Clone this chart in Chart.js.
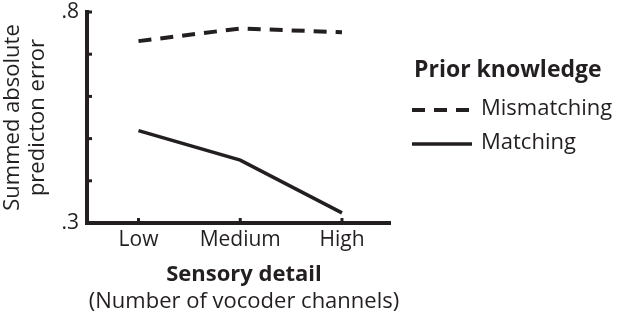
<!DOCTYPE html>
<html>
<head>
<meta charset="utf-8">
<script src="https://cdn.jsdelivr.net/npm/chart.js@4"></script>
<style>
  html, body { margin: 0; padding: 0; background: #fff; }
  #wrap { width: 617px; height: 319px; }
</style>
</head>
<body>
<div id="wrap"><canvas id="miGrafico" width="617" height="319"></canvas></div>
<script>
// datos
const categorias = ['Low', 'Medium', 'High'];
const mismatching = [0.731, 0.761, 0.752];
const matching = [0.519, 0.449, 0.324];
const yTicks = [0.3, 0.4, 0.5, 0.6, 0.7, 0.8];
const yLabels = { 0.3: '.3', 0.8: '.8' };

const tinta = '#231f20';
const fuente = '"Open Sans", sans-serif';

// marcas hacia adentro + leyenda + titulos inferiores
const extras = {
  id: 'extras',
  afterDraw(chart) {
    const ctx = chart.ctx;
    const x = chart.scales.x, y = chart.scales.y;
    ctx.save();
    ctx.strokeStyle = tinta;
    ctx.lineWidth = 3;
    for (let v of yTicks) {
      const py = y.getPixelForValue(v);
      ctx.beginPath(); ctx.moveTo(x.left, py); ctx.lineTo(x.left + 5, py); ctx.stroke();
    }
    categorias.forEach((c, i) => {
      const px = x.getPixelForValue(i);
      ctx.beginPath(); ctx.moveTo(px, y.bottom); ctx.lineTo(px, y.bottom - 5); ctx.stroke();
    });

    // leyenda
    ctx.fillStyle = tinta;
    ctx.textBaseline = 'middle';
    ctx.textAlign = 'left';
    ctx.font = 'bold 23px ' + fuente;
    ctx.fillText('Prior knowledge', 414, 70);
    ctx.font = '22px ' + fuente;
    const filas = [110, 144];
    chart.data.datasets.forEach((ds, i) => {
      ctx.beginPath();
      ctx.lineWidth = ds.borderWidth;
      ctx.setLineDash(ds.borderDash || []);
      ctx.moveTo(412, filas[i]); ctx.lineTo(472, filas[i]); ctx.stroke();
      ctx.setLineDash([]);
      ctx.fillText(ds.label, 481, filas[i] - 1);
    });

    // titulo eje x
    ctx.textAlign = 'center';
    ctx.font = 'bold 22px ' + fuente;
    ctx.fillText('Sensory detail', 244, 275);
    ctx.font = '22px ' + fuente;
    ctx.fillText('(Number of vocoder channels)', 244, 302);
    ctx.restore();
  }
};

const chartData = {
  datasets: [{
      label: 'Mismatching',
      data: mismatching.map((v, i) => ({ x: i, y: v })),
      borderColor: tinta,
      borderWidth: 4,
      borderDash: [13, 9],
      pointRadius: 0,
      tension: 0,
    }, {
      label: 'Matching',
      data: matching.map((v, i) => ({ x: i, y: v })),
      borderColor: tinta,
      borderWidth: 3.5,
      pointRadius: 0,
      tension: 0,
    },
  ],
};

new Chart(document.getElementById('miGrafico'), {
  type: 'line',
  data: chartData,
  plugins: [extras],
  options: {
    responsive: false,
    animation: false,
    layout: { padding: { top: 12, right: 227, bottom: 59, left: 0 } },
    plugins: { legend: { display: false }, tooltip: { enabled: false } },
    scales: {
      x: {
        type: 'linear',
        min: -0.506,
        max: 2.472,
        afterBuildTicks: s => { s.ticks = categorias.map((c, i) => ({ value: i })); },
        afterFit: s => { s.height = 37; s.paddingLeft = 0; s.paddingRight = 0; },
        grid: { display: false, drawTicks: false },
        border: { color: tinta, width: 4 },
        ticks: {
          callback: v => categorias[v] ?? '',
          color: tinta,
          font: { family: fuente, size: 21 },
          padding: 4,
          maxRotation: 0,
        },
      },
      y: {
        min: 0.3,
        max: 0.8,
        afterBuildTicks: s => { s.ticks = yTicks.map(v => ({ value: v })); },
        afterFit: s => { s.width = 87; s.paddingTop = 0; s.paddingBottom = 0; },
        grid: { display: false, drawTicks: false },
        border: { color: tinta, width: 4 },
        ticks: {
          callback: v => yLabels[Math.round(v * 10) / 10] ?? '',
          color: tinta,
          font: { family: fuente, size: 21 },
          padding: 8,
        },
        title: {
          display: true,
          text: ['Summed absolute', 'predicton error'],
          color: tinta,
          font: { family: fuente, size: 22, lineHeight: 1.15 },
          padding: 0,
        },
      },
    },
  },
});
</script>
</body>
</html>
